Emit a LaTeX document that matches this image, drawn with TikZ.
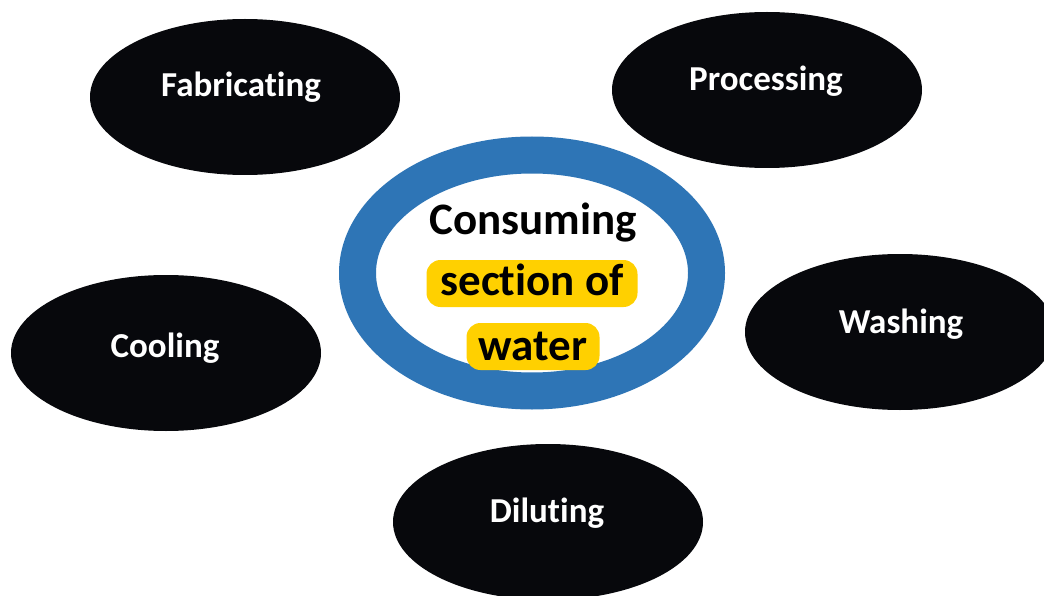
\documentclass[tikz,border=0pt]{standalone}
\usepackage{fontspec}
\setmainfont{Carlito}[Ligatures={NoCommon,NoContextual,NoRequired}]
\usetikzlibrary{shapes.geometric}
\newcommand\nolg{\kern0pt }
\definecolor{blob}{RGB}{7,8,12}
\definecolor{ringblue}{RGB}{46,117,182}
\definecolor{hilite}{RGB}{255,208,0}
\tikzset{
  blobshape/.style={ellipse, fill=blob, inner sep=0pt, minimum width=310pt, minimum height=156pt},
  blobtext/.style={anchor=base, text=white, inner sep=0pt, font=\bfseries\fontsize{35}{42}\selectfont},
  centertext/.style={anchor=base, text=black, inner sep=0pt, font=\bfseries\fontsize{45}{54}\selectfont},
  hibox/.style={fill=hilite, rounded corners=14pt}
}
\begin{document}
\begin{tikzpicture}[x=1pt,y=-1pt]
\useasboundingbox[fill=white] (0,0) rectangle (1044,596);
% outer ellipses
\node[blobshape] (fab) at (245,97) {};
\node[blobshape] (proc) at (767,90) {};
\node[blobshape] (wash) at (900,332) {};
\node[blobshape] (cool) at (166,353) {};
\node[blobshape] (dil) at (548,522) {};
% labels
\node[blobtext] (tfab) at (241,97) {Fabricat\nolg ing};
\node[blobtext] (tproc) at (766,91) {Processing};
\node[blobtext] (twash) at (901,333) {Washing};
\node[blobtext] (tcool) at (165,357) {Cooling};
\node[blobtext] (tdil) at (547,522) {Dilut\nolg ing};
% central ring
\node[ellipse, draw=ringblue, line width=37pt, inner sep=0pt, minimum width=349pt, minimum height=236pt] (ring) at (532,273) {};
% highlights
\node[hibox, minimum width=211pt, minimum height=47pt, inner sep=0pt] (h2) at (532,283.5) {};
\node[hibox, minimum width=133pt, minimum height=47pt, inner sep=0pt] (h3) at (533,346.5) {};
% central text
\node[centertext] (c1) at (533,235) {Consuming};
\node[centertext] (c2) at (532,295) {sect\nolg ion of};
\node[centertext] (c3) at (533,360) {water};
\end{tikzpicture}
\end{document}
